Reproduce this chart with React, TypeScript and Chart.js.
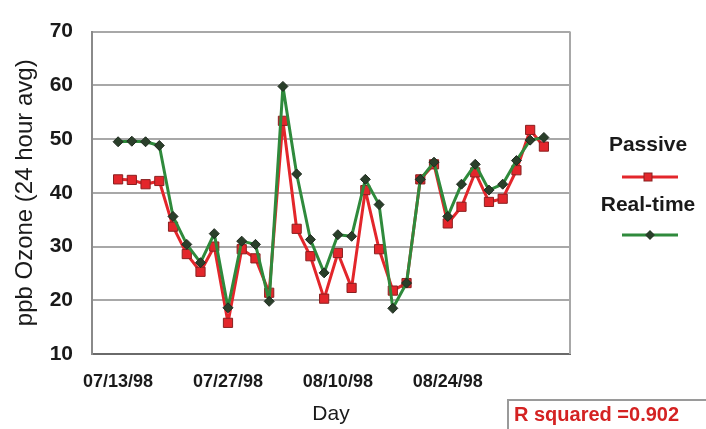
import React, { useEffect, useRef } from "react";
import { Chart, registerables } from "chart.js";

Chart.register(...registerables);

// ---- data ----
const pointIndex = [0, 1, 2, 3, 4, 5, 6, 7, 8, 9, 10, 11, 12, 13, 14, 15, 16, 17, 18, 19, 20, 21, 22, 23, 24, 25, 26, 27, 28, 29, 30, 31];
const passive = [42.5, 42.4, 41.6, 42.2, 33.7, 28.6, 25.3, 30.0, 15.8, 29.5, 27.8, 21.4, 53.4, 33.3, 28.2, 20.3, 28.8, 22.3, 40.5, 29.5, 21.8, 23.2, 42.5, 45.3, 34.3, 37.4, 43.8, 38.3, 38.9, 44.2, 51.7, 48.6];
const realTime = [49.5, 49.6, 49.5, 48.8, 35.6, 30.4, 27.0, 32.4, 18.6, 31.0, 30.4, 19.8, 59.8, 43.5, 31.3, 25.1, 32.2, 31.9, 42.5, 37.8, 18.5, 23.2, 42.5, 45.7, 35.6, 41.6, 45.3, 40.5, 41.6, 46.0, 49.8, 50.3];
const tickPositions = [0, 8, 16, 24];
const tickLabels = ["07/13/98", "07/27/98", "08/10/98", "08/24/98"];
const seriesNames = ["Passive", "Real-time"];
const yTitle = "ppb Ozone (24 hour avg)";
const xTitle = "Day";
const rSquaredText = "R squared =0.902";

const FONT = "Arial, 'Liberation Sans', sans-serif";
const RED = "#e3262b";
const GREEN = "#2f8a3c";

const decorPlugin = {
  id: "decor",
  afterDraw(chart: any) {
    const { ctx, chartArea } = chart;
    const { right, top, bottom } = chartArea;
    ctx.save();
    // right frame of the plot area
    ctx.strokeStyle = "#a8a8a8";
    ctx.lineWidth = 2;
    ctx.beginPath();
    ctx.moveTo(right, top);
    ctx.lineTo(right, bottom);
    ctx.stroke();

    // legend
    const items = [
      { name: chart.data.datasets[1].label, color: RED, ty: 145, ly: 177, style: "rect" },
      { name: chart.data.datasets[0].label, color: GREEN, ty: 205, ly: 235, style: "diamond" },
    ];
    const cx = 648;
    ctx.font = `bold 21px ${FONT}`;
    ctx.textAlign = "center";
    ctx.textBaseline = "middle";
    ctx.fillStyle = "#1a1a1a";
    for (const it of items) {
      ctx.fillText(it.name, cx, it.ty);
      ctx.strokeStyle = it.color;
      ctx.lineWidth = 3;
      ctx.beginPath();
      ctx.moveTo(cx - 26, it.ly);
      ctx.lineTo(cx + 30, it.ly);
      ctx.stroke();
      if (it.style === "rect") {
        ctx.fillStyle = RED;
        ctx.strokeStyle = "#8a2020";
        ctx.lineWidth = 1;
        ctx.fillRect(cx - 4, it.ly - 4, 8, 8);
        ctx.strokeRect(cx - 4, it.ly - 4, 8, 8);
      } else {
        ctx.fillStyle = "#2a3f2a";
        ctx.beginPath();
        ctx.moveTo(cx + 2, it.ly - 5);
        ctx.lineTo(cx + 7, it.ly);
        ctx.lineTo(cx + 2, it.ly + 5);
        ctx.lineTo(cx - 3, it.ly);
        ctx.closePath();
        ctx.fill();
      }
      ctx.fillStyle = "#1a1a1a";
    }

    // R squared box
    ctx.fillStyle = "#ffffff";
    ctx.fillRect(508, 400, 200, 40);
    ctx.strokeStyle = "#9a9a9a";
    ctx.lineWidth = 2;
    ctx.strokeRect(508, 400, 200, 40);
    ctx.fillStyle = "#d42222";
    ctx.font = `bold 20px ${FONT}`;
    ctx.textAlign = "left";
    ctx.textBaseline = "middle";
    ctx.fillText(rSquaredText, 514, 415);
    ctx.restore();
  },
};

export default function App() {
  const canvasRef = useRef<HTMLCanvasElement | null>(null);

  useEffect(() => {
    if (!canvasRef.current) return;
    const chart = new Chart(canvasRef.current, {
      type: "line",
      data: {
        datasets: [
          {
            label: seriesNames[1],
            data: pointIndex.map((x, i) => ({ x, y: realTime[i] })),
            borderColor: GREEN,
            borderWidth: 3,
            borderJoinStyle: "round",
            pointStyle: "rectRot",
            pointRadius: 5,
            pointBackgroundColor: "#2a3f2a",
            pointBorderColor: "#1f2a1f",
            pointBorderWidth: 1,
            tension: 0,
            order: 0,
          },
          {
            label: seriesNames[0],
            data: pointIndex.map((x, i) => ({ x, y: passive[i] })),
            borderColor: RED,
            borderWidth: 3,
            borderJoinStyle: "round",
            pointStyle: "rect",
            pointRadius: 6.5,
            pointBackgroundColor: RED,
            pointBorderColor: "#8a2020",
            pointBorderWidth: 1,
            tension: 0,
            order: 1,
          },
        ],
      },
      options: {
        animation: false,
        responsive: true,
        maintainAspectRatio: false,
        events: [],
        layout: { padding: { left: 0, right: 136, top: 28, bottom: 0 } },
        plugins: { legend: { display: false }, tooltip: { enabled: false } },
        scales: {
          x: {
            type: "linear",
            min: -1.9,
            max: 32.9,
            afterBuildTicks: (scale: any) => {
              scale.ticks = tickPositions.map((v) => ({ value: v }));
            },
            afterFit: (scale: any) => {
              scale.height = 75;
            },
            grid: { display: false, drawTicks: false },
            border: { display: true, color: "#6a6a6a", width: 2 },
            ticks: {
              autoSkip: false,
              maxRotation: 0,
              padding: 17,
              color: "#1a1a1a",
              font: { family: FONT, size: 18, weight: "bold" },
              callback: (v: any) => {
                const i = tickPositions.indexOf(Number(v));
                return i >= 0 ? tickLabels[i] : "";
              },
            },
            title: {
              display: true,
              text: xTitle,
              color: "#1a1a1a",
              font: { family: FONT, size: 21 },
              padding: { top: 0, bottom: 2 },
            },
          },
          y: {
            type: "linear",
            min: 10,
            max: 70,
            afterFit: (scale: any) => {
              scale.width = 92;
            },
            grid: { color: "#a8a8a8", lineWidth: 2, drawTicks: false },
            border: { display: true, color: "#8a8a8a", width: 2 },
            ticks: {
              stepSize: 10,
              padding: 19,
              color: "#1a1a1a",
              font: { family: FONT, size: 21, weight: "bold" },
            },
            title: {
              display: true,
              text: yTitle,
              color: "#1a1a1a",
              font: { family: FONT, size: 24 },
              padding: { top: 11, bottom: 0 },
            },
          },
        },
      },
      plugins: [decorPlugin],
    });
    return () => chart.destroy();
  }, []);

  return (
    <div
      style={{
        position: "fixed",
        left: 0,
        top: 0,
        width: 706,
        height: 429,
        background: "#ffffff",
      }}
    >
      <canvas ref={canvasRef} />
    </div>
  );
}
